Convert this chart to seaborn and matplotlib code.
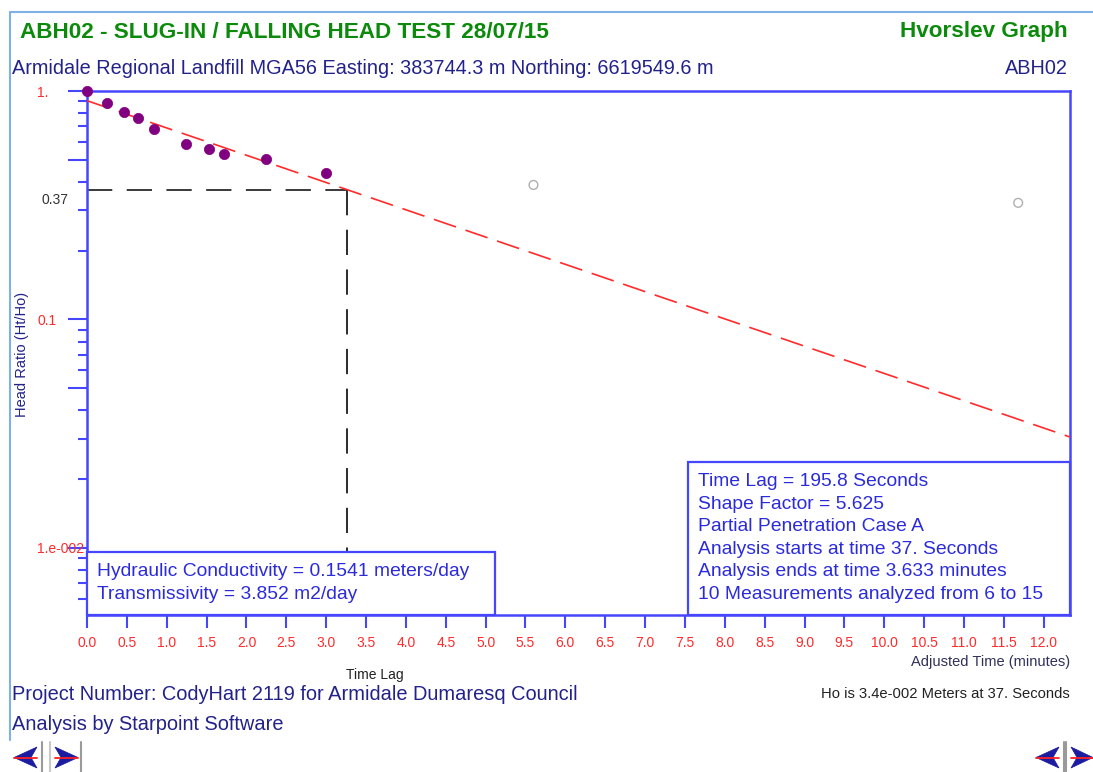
import numpy as np
import pandas as pd
import matplotlib
matplotlib.use("Agg")
import matplotlib.pyplot as plt
import seaborn as sns
from matplotlib.patches import Rectangle, Polygon
from matplotlib.lines import Line2D
import matplotlib.transforms as mtransforms
from matplotlib.ticker import FixedLocator

# ---------------- data ----------------
analyzed_time = [0.0, 0.25, 0.46, 0.64, 0.84, 1.24, 1.53, 1.72, 2.25, 3.0]
analyzed_ratio = [1.0, 0.883, 0.812, 0.759, 0.679, 0.584, 0.557, 0.530, 0.502, 0.436]
excluded_time = [5.60, 11.68]
excluded_ratio = [0.388, 0.324]
fit_time = [0.0, 12.33]
fit_ratio = [0.907, 0.0306]
time_lag_min = 195.8 / 60.0
lag_ratio = 0.37
x_tick_values = [0.0, 0.5, 1.0, 1.5, 2.0, 2.5, 3.0, 3.5, 4.0, 4.5, 5.0, 5.5, 6.0,
                 6.5, 7.0, 7.5, 8.0, 8.5, 9.0, 9.5, 10.0, 10.5, 11.0, 11.5, 12.0]
y_major_values = [1.0, 0.5, 0.1, 0.05, 0.01]
y_major_labels = ["1.", "", "0.1", "", "1.e-002"]
y_minor_values = [0.9, 0.8, 0.7, 0.6, 0.4, 0.3, 0.2,
                  0.09, 0.08, 0.07, 0.06, 0.04, 0.03, 0.02,
                  0.009, 0.008, 0.007, 0.006]
x_range = (0.0, 12.33)
y_range = (0.00509, 1.0)

info_lines = ["Time Lag = 195.8 Seconds", "Shape Factor = 5.625",
              "Partial Penetration Case A", "Analysis starts at time 37. Seconds",
              "Analysis ends at time 3.633 minutes",
              "10 Measurements analyzed from 6 to 15"]
result_lines = ["Hydraulic Conductivity = 0.1541 meters/day",
                "Transmissivity = 3.852 m2/day"]

# ---------------- style ----------------
sns.set_style("white")
NARROW = ["Liberation Sans Narrow", "Liberation Sans", "DejaVu Sans"]
plt.rcParams["font.family"] = ["Liberation Sans", "DejaVu Sans"]

W, H = 1093, 772
fig = plt.figure(figsize=(W / 100, H / 100), dpi=100)
fig.patch.set_facecolor("white")


def fx(x):
    return x / W


def fy(y):
    return 1 - y / H


BLUE = "#4646ff"
TXTBLUE = "#2b2bdc"
NAVY = "#22228a"
RED = "#ff2a2a"
GREEN = "#0b8a0b"

ax_left, ax_right, ax_top, ax_bot = 87, 1070, 91, 615
ax = fig.add_axes([fx(ax_left), fy(ax_bot), fx(ax_right) - fx(ax_left), (ax_bot - ax_top) / H])
ax.set_facecolor("white")

pts = pd.DataFrame({"t": analyzed_time, "r": analyzed_ratio})
exc = pd.DataFrame({"t": excluded_time, "r": excluded_ratio})
fit = pd.DataFrame({"t": fit_time, "r": fit_ratio})

sns.lineplot(data=fit, x="t", y="r", ax=ax, color=RED, lw=1.2, zorder=3,
             dashes=False)
ax.lines[-1].set_dashes((14, 6))

sns.scatterplot(data=pts, x="t", y="r", ax=ax, color="#800080", s=55,
                edgecolor="#800080", linewidth=0.5, zorder=5, clip_on=False)
sns.scatterplot(data=exc, x="t", y="r", ax=ax, facecolor="none",
                edgecolor="#b0b0b0", s=40, linewidth=1.0, zorder=5)

ax.set_yscale("log")
ax.set_xlim(*x_range)
ax.set_ylim(*y_range)

# time-lag guide lines
ax.plot([0, time_lag_min], [lag_ratio, lag_ratio], color="#2a2a2a", lw=1.3,
        dashes=(14, 8), zorder=2)
ax.plot([time_lag_min, time_lag_min], [lag_ratio, y_range[0]], color="#1a1a1a",
        lw=1.3, dashes=(14, 8), zorder=2)

# spines
for s in ax.spines.values():
    s.set_color(BLUE)
    s.set_linewidth(1.8)
    s.set_visible(True)

ax.set_xlabel("")
ax.set_ylabel("")

ax.xaxis.set_major_locator(FixedLocator(x_tick_values))
ax.set_xticklabels([f"{v:.1f}" for v in x_tick_values])
ax.tick_params(axis="x", which="both", direction="out", length=9.4, width=1.5,
               color=BLUE, labelcolor=RED, labelsize=10, pad=6.0, bottom=True)
ax.xaxis.set_minor_locator(FixedLocator([]))

ax.yaxis.set_major_locator(FixedLocator(y_major_values))
ax.set_yticklabels(y_major_labels)
ax.yaxis.set_minor_locator(FixedLocator(y_minor_values))
ax.yaxis.set_minor_formatter(matplotlib.ticker.NullFormatter())
ax.tick_params(axis="y", which="major", direction="out", length=13.7, width=1.5,
               color=BLUE, labelcolor=RED, labelsize=10, pad=22.3, left=True)
ax.tick_params(axis="y", which="minor", direction="out", length=6.5, width=1.5,
               color=BLUE, left=True)
for lab in ax.get_yticklabels():
    lab.set_horizontalalignment("left")

trans = mtransforms.blended_transform_factory(fig.transFigure, ax.transData)
ax.annotate("0.37", xy=(fx(41), lag_ratio), xycoords=trans, xytext=(0, -7.5),
            textcoords="offset points", ha="left", va="center", fontsize=10,
            color="#333333", annotation_clip=False)

# ---------------- boxes ----------------
def box(x0, y0, x1, y1):
    fig.add_artist(Rectangle((fx(x0), fy(y1)), fx(x1) - fx(x0), (y1 - y0) / H,
                             transform=fig.transFigure, facecolor="white",
                             edgecolor=BLUE, lw=1.6, zorder=10))


box(87, 552, 495, 615)
for i, t in enumerate(result_lines):
    fig.text(fx(97), fy(572 + 22.3 * i), t, fontsize=13.9, color=TXTBLUE,
             ha="left", va="center", zorder=11)

box(688, 461.5, 1070, 615)
for i, t in enumerate(info_lines):
    fig.text(fx(698), fy(481.7 + 22.5 * i), t, fontsize=13.9, color=TXTBLUE,
             ha="left", va="center", zorder=11)

# ---------------- texts ----------------
fig.text(fx(20), fy(32), "ABH02 - SLUG-IN / FALLING HEAD TEST 28/07/15",
         family=NARROW, fontweight="bold", fontsize=16.2, color=GREEN,
         ha="left", va="center")
fig.text(fx(1068), fy(32), "Hvorslev Graph", family=NARROW, fontweight="bold",
         fontsize=16.2, color=GREEN, ha="right", va="center")
fig.text(fx(12), fy(68),
         "Armidale Regional Landfill MGA56 Easting: 383744.3 m Northing: 6619549.6 m",
         family=NARROW, fontsize=14.3, color=NAVY, ha="left", va="center")
fig.text(fx(1068), fy(68), "ABH02", family=NARROW, fontsize=14.3, color=NAVY,
         ha="right", va="center")

fig.text(fx(22), fy(354), "Head Ratio (Ht/Ho)", rotation=90, fontsize=10.5,
         color=NAVY, ha="center", va="center")
fig.text(fx(375), fy(675), "Time Lag", fontsize=10, color="#222222",
         ha="center", va="center")
fig.text(fx(1070), fy(662), "Adjusted Time (minutes)", fontsize=10.5,
         color="#30305a", ha="right", va="center")

fig.text(fx(12), fy(695), "Project Number: CodyHart 2119 for Armidale Dumaresq Council",
         family=NARROW, fontsize=14.4, color=NAVY, ha="left", va="center")
fig.text(fx(12), fy(724), "Analysis by Starpoint Software", family=NARROW,
         fontsize=14.4, color=NAVY, ha="left", va="center")
fig.text(fx(1070), fy(694), "Ho is 3.4e-002 Meters at 37. Seconds", family=NARROW,
         fontsize=10.6, color="#222222", ha="right", va="center")

# ---------------- frame and navigation buttons ----------------
fig.add_artist(Line2D([fx(10), fx(1093)], [fy(12), fy(12)], color="#7fb0e6", lw=1.5))
fig.add_artist(Line2D([fx(10), fx(10)], [fy(12), fy(740)], color="#7fb0e6", lw=1.5))


def arrow(x_tip, x_back, x_notch, yc, sep_x):
    fig.add_artist(Polygon([(fx(x_tip), fy(yc)), (fx(x_back), fy(yc - 10.5)),
                            (fx(x_notch), fy(yc)), (fx(x_back), fy(yc + 10.5))],
                           closed=True, transform=fig.transFigure,
                           facecolor="#1c1ca0", edgecolor="#1c1ca0", lw=0.5))
    fig.add_artist(Line2D([fx(x_tip), fx(x_back)], [fy(yc), fy(yc)],
                          color="#ff2020", lw=1.3))
    fig.add_artist(Line2D([fx(sep_x), fx(sep_x)], [fy(742), fy(772)],
                          color="#9a9a9a", lw=1.5))


arrow(14, 37, 31, 757.5, 42)
fig.add_artist(Line2D([fx(50), fx(50)], [fy(742), fy(772)], color="#c8c8c8", lw=1.5))
arrow(78, 55, 61, 757.5, 81)
arrow(1036, 1059, 1053, 757.5, 1064)
arrow(1093, 1071, 1077, 757.5, 1066)

fig.savefig("out.png", dpi=100, facecolor="white")
